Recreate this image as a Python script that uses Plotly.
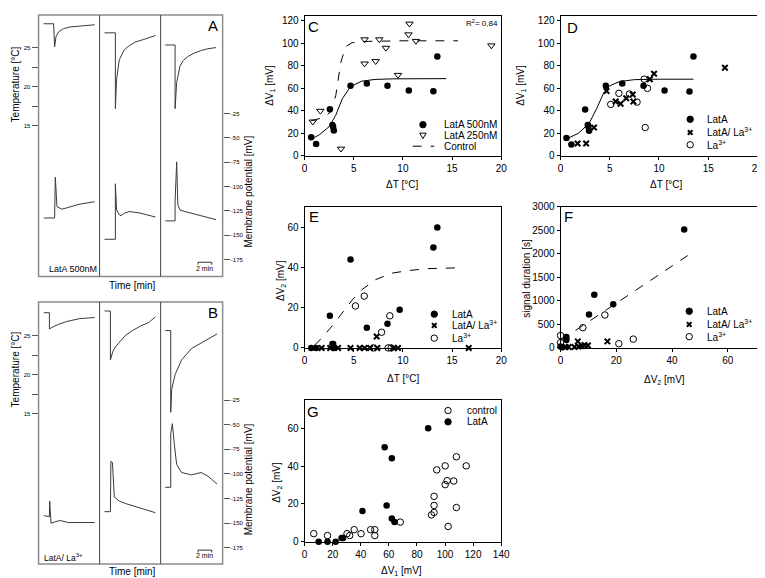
import plotly.graph_objects as go

W, H = 765, 578
FONT = "Liberation Sans, Arial, sans-serif"

# ---------------- DATA ----------------
# Panel A: three recordings (LatA 500nM); time [min], temperature [°C], membrane potential [mV]
a1_temp_t = [0.71, 2.19, 2.33, 2.53, 2.9, 3.61, 4.57, 6.47, 8.14]
a1_temp_v = [28.04, 28.04, 25.1, 26.4, 27.0, 27.41, 27.63, 27.83, 27.91]
a1_mem_t = [0.76, 2.33, 2.43, 2.67, 3.39, 4.57, 6.0, 8.14]
a1_mem_v = [-132.3, -132.3, -90.4, -120.6, -123.3, -121.0, -118.0, -115.6]
a2_temp_t = [0.71, 2.29, 2.29, 2.47, 2.86, 3.57, 4.29, 5.24, 6.43, 8.1]
a2_temp_v = [26.88, 26.88, 17.2, 20.95, 23.45, 24.7, 25.23, 25.73, 26.04, 26.54]
a2_mem_t = [0.71, 2.29, 2.29, 2.47, 2.86, 3.1, 3.57, 4.29, 5.71, 7.14, 8.1]
a2_mem_v = [-154.2, -154.2, -97.1, -124.0, -129.0, -130.0, -127.5, -125.7, -127.0, -130.0, -131.3]
a3_temp_t = [0.67, 2.1, 2.1, 2.33, 2.81, 3.29, 4.0, 4.86, 5.9, 6.86, 8.04]
a3_temp_v = [25.33, 25.33, 17.2, 20.54, 22.63, 23.35, 23.88, 24.29, 24.63, 24.85, 25.0]
a3_mem_t = [0.67, 2.1, 2.1, 2.33, 2.5, 2.81, 3.53, 5.43, 6.86, 8.04]
a3_mem_v = [-135.3, -135.3, -115.6, -74.6, -118.9, -124.0, -125.7, -129.0, -131.5, -134.0]

# Panel B: three recordings (LatA / La3+)
b1_temp_t = [0.76, 1.57, 1.57, 1.96, 2.86, 4.1, 6.0, 8.14]
b1_temp_v = [27.91, 27.91, 25.83, 26.04, 26.41, 26.79, 27.16, 27.29]
b1_mem_t = [0.76, 1.57, 1.61, 1.81, 2.43, 3.14, 4.33, 8.14]
b1_mem_v = [-142.4, -143.4, -127.5, -150.1, -148.6, -147.4, -149.4, -149.4]
b2_temp_t = [0.71, 1.57, 1.57, 1.9, 2.29, 2.86, 3.71, 4.76, 6.0, 7.14, 8.1]
b2_temp_v = [28.13, 28.13, 21.88, 22.91, 23.54, 24.16, 24.98, 25.63, 26.23, 26.66, 27.38]
b2_mem_t = [0.71, 1.57, 1.64, 1.86, 2.14, 2.86, 3.81, 5.71, 8.1]
b2_mem_v = [-138.4, -138.4, -87.3, -88.4, -123.5, -127.7, -130.2, -134.2, -139.4]
b3_temp_t = [0.67, 1.47, 1.47, 1.61, 2.1, 3.04, 4.47, 6.86, 8.19]
b3_temp_v = [25.63, 25.63, 15.2, 18.13, 20.0, 21.88, 23.33, 24.58, 25.2]
b3_mem_t = [0.67, 1.47, 1.47, 1.71, 2.0, 2.33, 3.04, 4.47, 5.9, 6.86, 8.19]
b3_mem_v = [-113.6, -113.6, -58.8, -48.9, -70.5, -90.4, -98.6, -101.0, -98.6, -102.3, -110.3]

# Panel C: dT [°C] vs dV1 [mV]
c_lat500_dT = [0.67, 1.17, 2.57, 2.83, 2.9, 2.97, 4.67, 6.33, 8.43, 10.6, 13.1, 13.5]
c_lat500_dV1 = [16.5, 10.7, 41.4, 27.5, 26.0, 22.6, 62.2, 64.2, 62.2, 58.1, 57.3, 88.2]
c_lat250_dT = [0.83, 1.6, 3.7, 6.1, 6.1, 7.23, 7.6, 8.27, 9.5, 10.57, 10.67, 11.33, 19.0]
c_lat250_dV1 = [30.4, 39.9, 6.4, 103.2, 81.8, 83.9, 103.2, 95.7, 71.7, 107.6, 117.1, 101.8, 97.8]
c_fit_dT = [0.6, 1.5, 2.5, 3.17, 3.83, 4.67, 5.83, 7.17, 9.0, 14.4]
c_fit_dV1 = [14.5, 18.8, 26.0, 36.1, 50.6, 61.5, 66.3, 67.8, 68.3, 68.5]
c_ctrl_dT = [0.67, 1.83, 2.67, 3.17, 3.67, 4.17, 4.83, 6.5, 10.0, 15.6]
c_ctrl_dV1 = [31.2, 33.8, 39.0, 53.5, 82.4, 96.9, 100.3, 101.5, 102.0, 102.0]

# Panel D
d_latA_dT = [0.6, 1.1, 2.5, 2.77, 2.83, 2.9, 4.6, 6.27, 8.43, 10.57, 13.1, 13.5]
d_latA_dV1 = [15.9, 10.1, 41.1, 27.5, 26.0, 22.3, 62.2, 64.2, 62.2, 58.1, 57.0, 88.2]
d_latLa_dT = [1.73, 2.6, 3.4, 4.67, 5.6, 6.1, 6.67, 7.33, 7.4, 9.07, 9.5, 16.7]
d_latLa_dV1 = [11.0, 11.0, 25.2, 57.5, 48.3, 46.3, 51.2, 54.4, 48.3, 68.0, 72.9, 78.1]
d_La_dT = [5.1, 5.93, 7.0, 7.77, 8.5, 8.83, 8.6]
d_La_dV1 = [45.7, 55.5, 54.9, 47.7, 68.0, 59.9, 25.2]
d_fit_dT = [0.6, 1.83, 2.9, 3.67, 4.33, 5.0, 6.0, 7.5, 10.0, 13.5]
d_fit_dV1 = [15.0, 20.2, 28.9, 41.9, 54.9, 62.2, 65.9, 67.6, 68.0, 68.0]

# Panel E: dT vs dV2
e_latA_dT = [0.67, 1.17, 2.57, 2.83, 2.9, 2.97, 4.67, 6.33, 8.43, 9.67, 13.1, 13.5]
e_latA_dV2 = [0, 0, 16, 2, 2, 0, 44, 10, 12, 19, 50, 60]
e_latLa_dT = [1.73, 2.6, 3.4, 4.67, 5.6, 6.1, 6.67, 7.33, 7.4, 9.07, 9.5, 16.7]
e_latLa_dV2 = [0, 0, 0, 0, 0, 0, 0, 5.7, 0, 0, 0, 0]
e_La_dT = [5.17, 6.07, 7.83, 8.67, 7.0, 8.5, 8.8]
e_La_dV2 = [20.9, 25.8, 7.8, 16.0, 0, 0, 0]
e_fit_dT = [1.0, 1.83, 2.83, 3.83, 4.83, 5.83, 7.17, 8.83, 10.5, 12.5, 15.7]
e_fit_dV2 = [1.3, 5.4, 11.1, 17.6, 23.8, 29.0, 33.9, 37.2, 38.5, 39.5, 39.9]

# Panel F: dV2 vs signal duration [s]
f_latA_dV2 = [44.35, 12.1, 10.2, 18.9, 2.1, 2.1, 0, 0.6]
f_latA_dur = [2520, 1130, 710, 930, 230, 170, 30, 15]
f_latLa_dV2 = [1.8, 2.9, 5.0, 6.2, 6.5, 7.6, 8.6, 9.8, 16.8]
f_latLa_dur = [20, 20, 20, 139, 30, 40, 60, 50, 139]
f_La_dV2 = [0, 0, 8.0, 15.9, 20.9, 26.1]
f_La_dur = [264, 111, 430, 701, 90, 188]
f_fit_dV2 = [0, 45.6]
f_fit_dur = [160, 1965]

# Panel G: dV1 vs dV2
g_ctrl_dV1 = [6.5, 16.3, 30.2, 32.1, 35.3, 40.2, 47, 50, 50, 68.1, 90.3, 92.2, 92.2, 92.2, 94.1,
              100.1, 100.1, 101.5, 102.2, 106.2, 108.1, 108.1, 115.1]
g_ctrl_dV2 = [4.3, 3.3, 4.3, 3.3, 6.4, 4.3, 6.4, 6.4, 3.3, 10.4, 14.2, 15.5, 19.2, 24.0, 38.0,
              40.1, 30.2, 32.3, 8.1, 32.1, 44.9, 18.1, 40.1]
g_latA_dV1 = [10, 16.3, 22.1, 26.3, 27.4, 41.2, 57, 58.4, 62.1, 62.1, 64, 88]
g_latA_dV2 = [0, 0, 0, 2, 2, 16.3, 50, 19.2, 44.1, 12.3, 10.4, 60]


# ---------------- helpers ----------------
def fx(px):
    return px / W


def fy(py):
    return 1 - py / H


def xdom(l, r):
    return [fx(l), fx(r)]


def ydom(top, bottom):
    return [fy(bottom), fy(top)]


TRACE_COL = "#3a3a3a"
fig = go.Figure()


def line_tr(x, y, xa, ya, dash=None, color=TRACE_COL, width=1):
    fig.add_trace(go.Scatter(x=x, y=y, xaxis=xa, yaxis=ya, mode="lines",
                             line=dict(color=color, width=width, dash=dash),
                             hoverinfo="skip", cliponaxis=False))


def mk_tr(x, y, xa, ya, kind):
    if kind == "filled":
        m = dict(symbol="circle", size=6.5, color="black")
    elif kind == "open":
        m = dict(symbol="circle-open", size=6.5, color="black", line=dict(width=1))
    elif kind == "tri":
        m = dict(symbol="triangle-down-open", size=6.5, color="black", line=dict(width=1))
    else:
        m = dict(symbol="x-thin-open", size=5.5, color="black", line=dict(width=2, color="black"))
    fig.add_trace(go.Scatter(x=x, y=y, xaxis=xa, yaxis=ya, mode="markers",
                             marker=m, cliponaxis=False))


# ----- A / B traces -----
A_sets = [("x", a1_temp_t, a1_temp_v, a1_mem_t, a1_mem_v),
          ("x2", a2_temp_t, a2_temp_v, a2_mem_t, a2_mem_v),
          ("x3", a3_temp_t, a3_temp_v, a3_mem_t, a3_mem_v)]
for xa, tt, tv, mt, mv in A_sets:
    line_tr(tt, tv, xa, "y")
    line_tr(mt, mv, xa, "y2")
B_sets = [("x4", b1_temp_t, b1_temp_v, b1_mem_t, b1_mem_v),
          ("x5", b2_temp_t, b2_temp_v, b2_mem_t, b2_mem_v),
          ("x6", b3_temp_t, b3_temp_v, b3_mem_t, b3_mem_v)]
for xa, tt, tv, mt, mv in B_sets:
    line_tr(tt, tv, xa, "y3")
    line_tr(mt, mv, xa, "y4")

# ----- C -----
line_tr(c_fit_dT, c_fit_dV1, "x7", "y5", color="black")
line_tr(c_ctrl_dT, c_ctrl_dV1, "x7", "y5", dash="dash", color="black")
mk_tr(c_lat500_dT, c_lat500_dV1, "x7", "y5", "filled")
mk_tr(c_lat250_dT, c_lat250_dV1, "x7", "y5", "tri")
# ----- D -----
line_tr(d_fit_dT, d_fit_dV1, "x8", "y6", color="black")
mk_tr(d_latA_dT, d_latA_dV1, "x8", "y6", "filled")
mk_tr(d_latLa_dT, d_latLa_dV1, "x8", "y6", "x")
mk_tr(d_La_dT, d_La_dV1, "x8", "y6", "open")
# ----- E -----
line_tr(e_fit_dT, e_fit_dV2, "x9", "y7", dash="dash", color="black")
mk_tr(e_latA_dT, e_latA_dV2, "x9", "y7", "filled")
mk_tr(e_latLa_dT, e_latLa_dV2, "x9", "y7", "x")
mk_tr(e_La_dT, e_La_dV2, "x9", "y7", "open")
# ----- F -----
line_tr(f_fit_dV2, f_fit_dur, "x10", "y8", dash="dash", color="black")
mk_tr(f_latA_dV2, f_latA_dur, "x10", "y8", "filled")
mk_tr(f_latLa_dV2, f_latLa_dur, "x10", "y8", "x")
mk_tr(f_La_dV2, f_La_dur, "x10", "y8", "open")
# ----- G -----
mk_tr(g_ctrl_dV1, g_ctrl_dV2, "x11", "y9", "open")
mk_tr(g_latA_dV1, g_latA_dV2, "x11", "y9", "filled")

# ---------------- axes ----------------
hidden_x = dict(visible=False, showgrid=False, zeroline=False)
lay = dict(width=W, height=H, margin=dict(l=0, r=0, t=0, b=0),
           paper_bgcolor="white", plot_bgcolor="rgba(0,0,0,0)", showlegend=False,
           font=dict(family=FONT, size=10, color="black"))

sub_l = [(28, 90), (90, 152), (152, 215)]
for i, (l, r) in enumerate(sub_l):
    nmA = "xaxis" if i == 0 else "xaxis%d" % (i + 1)
    lay[nmA] = dict(hidden_x, domain=xdom(l, r), range=[0, (r - l) / 7.0], anchor="y")
    lay["xaxis%d" % (i + 4)] = dict(hidden_x, domain=xdom(l, r), range=[0, (r - l) / 7.0], anchor="y3")

temp_vals = [15, 20, 25]
mem_vals = [-175, -150, -125, -100, -75, -50, -25]
mem_text = [str(v).replace("\u2212", "-") for v in mem_vals]


def temp_axis(top, bottom, rng):
    return dict(domain=ydom(top, bottom), range=rng, anchor="free", position=fx(28), side="left",
                tickvals=temp_vals, ticktext=[str(v) for v in temp_vals], ticks="outside",
                ticklen=7, tickwidth=1, tickcolor="#555", tickfont=dict(size=6),
                showline=False, showgrid=False, zeroline=False,
                minor=dict(tickvals=[17.5, 22.5], ticks="outside", ticklen=7, tickcolor="#555"))


def mem_axis(top, bottom, rng, over):
    return dict(domain=ydom(top, bottom), range=rng, anchor="free", position=fx(215), side="right",
                overlaying=over, tickvals=mem_vals, ticktext=mem_text, ticks="outside",
                ticklen=6, tickwidth=1, tickcolor="#555", tickfont=dict(size=6),
                showline=False, showgrid=False, zeroline=False)


lay["yaxis"] = temp_axis(1, 268, [-4.21, 29.16])
lay["yaxis2"] = mem_axis(1, 268, [-192.4, 76.4], "y")
lay["yaxis3"] = temp_axis(294, 561.7, [-4.18, 29.29])
lay["yaxis4"] = mem_axis(294, 561.7, [-191.6, 74.8], "y3")


def sci_axis(dom, rng, anchor, tickvals):
    return dict(domain=dom, range=rng, anchor=anchor, showline=True, mirror=True,
                linecolor="black", linewidth=1, ticks="outside", ticklen=3, tickwidth=1,
                tickcolor="black", tickvals=tickvals, tickfont=dict(size=10, family=FONT),
                showgrid=False, zeroline=False)


lay["xaxis7"] = sci_axis(xdom(298.3, 498), [0, 20], "y5", [0, 5, 10, 15, 20])
lay["yaxis5"] = sci_axis(ydom(2, 145), [0, 124], "x7", [0, 20, 40, 60, 80, 100, 120])
lay["xaxis8"] = sci_axis(xdom(558.3, 758.3), [0, 20], "y6", [0, 5, 10, 15, 20])
lay["yaxis6"] = sci_axis(ydom(2, 145), [0, 124], "x8", [0, 20, 40, 60, 80, 100, 120])
lay["xaxis9"] = sci_axis(xdom(298.3, 498), [0, 20], "y7", [0, 5, 10, 15, 20])
lay["yaxis7"] = sci_axis(ydom(197.5, 341), [0, 70], "x9", [0, 20, 40, 60])
lay["xaxis10"] = sci_axis(xdom(558.3, 758.3), [0, 70.6], "y8", [0, 20, 40, 60])
lay["yaxis8"] = sci_axis(ydom(197, 341), [0, 3000], "x10", [0, 500, 1000, 1500, 2000, 2500, 3000])
lay["xaxis11"] = sci_axis(xdom(298.3, 498), [0, 140], "y9", [0, 20, 40, 60, 80, 100, 120, 140])
lay["yaxis9"] = sci_axis(ydom(394, 539), [0, 75], "x11", [0, 20, 40, 60])

# ---------------- shapes ----------------
shapes = []
for top, bot in [(1, 268), (294, 561.7)]:
    shapes.append(dict(type="rect", xref="paper", yref="paper", x0=fx(28), x1=fx(215),
                       y0=fy(bot), y1=fy(top), line=dict(color="#8c8c8c", width=1.5)))
    for xd in (90, 152):
        shapes.append(dict(type="line", xref="paper", yref="paper", x0=fx(xd), x1=fx(xd),
                           y0=fy(bot), y1=fy(top), line=dict(color="#444", width=1)))

# 2-min scale bars (in the time axis of the third recording)
for xa, ybar in [("x3", 253.5), ("x6", 547.5)]:
    shapes.append(dict(type="line", xref=xa, yref="paper", x0=5.43, x1=7.43,
                       y0=fy(ybar), y1=fy(ybar), line=dict(color="#333", width=1)))
    for xv in (5.43, 7.43):
        shapes.append(dict(type="line", xref=xa, yref="paper", x0=xv, x1=xv,
                           y0=fy(ybar), y1=fy(ybar + 2.5), line=dict(color="#333", width=1)))


def key(kind, px, py):
    base = dict(xref="paper", yref="paper", xsizemode="pixel", ysizemode="pixel",
                xanchor=fx(px), yanchor=fy(py), line=dict(color="black", width=1))
    if kind == "filled":
        return dict(base, type="circle", x0=-3.2, x1=3.2, y0=-3.2, y1=3.2, fillcolor="black")
    if kind == "open":
        return dict(base, type="circle", x0=-3.2, x1=3.2, y0=-3.2, y1=3.2, fillcolor="white")
    if kind == "tri":
        return dict(base, type="path", path="M -3.2 2.3 L 3.2 2.3 L 0 -3.2 Z", fillcolor="white")
    return dict(base, type="path", path="M -2.3 -2.3 L 2.3 2.3 M -2.3 2.3 L 2.3 -2.3",
                line=dict(color="black", width=2))


# ---------------- annotations ----------------
anns = []


def ann(text, px, py, size=10, xanchor="center", angle=0):
    anns.append(dict(text=text, x=fx(px), y=fy(py), xref="paper", yref="paper", showarrow=False,
                     xanchor=xanchor, yanchor="middle", textangle=angle,
                     font=dict(size=size, family=FONT, color="black")))


# A / B labels
ann("A", 205, 12, 15)
ann("B", 205, 305, 15)
ann("LatA 500nM", 63, 260, 9)
ann("LatA/ La<sup>3+</sup>", 53, 555, 8.5)
ann("2 min", 197, 259.5, 7)
ann("2 min", 197, 553, 7)
ann("Time [min]", 123, 277, 10)
ann("Time [min]", 123, 569.5, 10)
ann("Temperature [°C]", 5, 72, 10, angle=-90)
ann("Temperature [°C]", 5, 363, 10, angle=-90)
ann("Membrane potential [mV]", 241, 181, 10, angle=-90)
ann("Membrane potential [mV]", 241, 475, 10, angle=-90)

# panel letters
ann("C", 307.5, 13, 15)
ann("D", 570, 13.5, 15)
ann("E", 307.5, 207, 15)
ann("F", 566, 207, 15)
ann("G", 307, 405.5, 15)
ann("R<sup>2</sup>= 0,84", 497, 9.5, 8, xanchor="right")

# axis titles
ann("ΔV<sub>1</sub> [mV]", 263.5, 73, 10, angle=-90)
ann("ΔT [°C]", 397, 174.5, 10)
ann("ΔV<sub>1</sub> [mV]", 518.5, 73, 10, angle=-90)
ann("ΔT [°C]", 665, 174.5, 10)
ann("ΔV<sub>2</sub> [mV]", 275, 272, 10, angle=-90)
ann("ΔT [°C]", 398.5, 372, 10)
ann("signal duration [s]", 523.5, 270, 10, angle=-90)
ann("ΔV<sub>2</sub> [mV]", 663.5, 373.5, 10)
ann("ΔV<sub>2</sub> [mV]", 270, 478, 10, angle=-90)
ann("ΔV<sub>1</sub> [mV]", 397, 569, 10)

# legends (key symbols + labels)
shapes.append(key("filled", 418.5, 113))
shapes.append(key("tri", 418.5, 124))
shapes.append(dict(type="line", xref="paper", yref="paper", x0=fx(408), x1=fx(430),
                   y0=fy(135), y1=fy(135), line=dict(color="black", width=1, dash="dash")))
ann("LatA 500nM", 438, 113, 10, xanchor="left")
ann("LatA 250nM", 438, 124, 10, xanchor="left")
ann("Control", 438, 135, 10, xanchor="left")

for (mx, tx, rows) in [(690, 705, (107.5, 121, 133.5)), (430, 446, (306.5, 318, 331)),
                       (689, 705, (303.5, 317, 329.5))]:
    shapes.append(key("filled", mx, rows[0]))
    shapes.append(key("x", mx, rows[1]))
    shapes.append(key("open", mx, rows[2]))
    ann("LatA", tx, rows[0], 10, xanchor="left")
    ann("LatA/ La<sup>3+</sup>", tx, rows[1], 10, xanchor="left")
    ann("La<sup>3+</sup>", tx, rows[2], 10, xanchor="left")

shapes.append(key("open", 444, 405))
shapes.append(key("filled", 444, 416.5))
ann("control", 461.5, 405, 10, xanchor="left")
ann("LatA", 461.5, 416.5, 10, xanchor="left")

lay["shapes"] = shapes
lay["annotations"] = anns
fig.update_layout(**lay)
fig.write_html("out.html")
